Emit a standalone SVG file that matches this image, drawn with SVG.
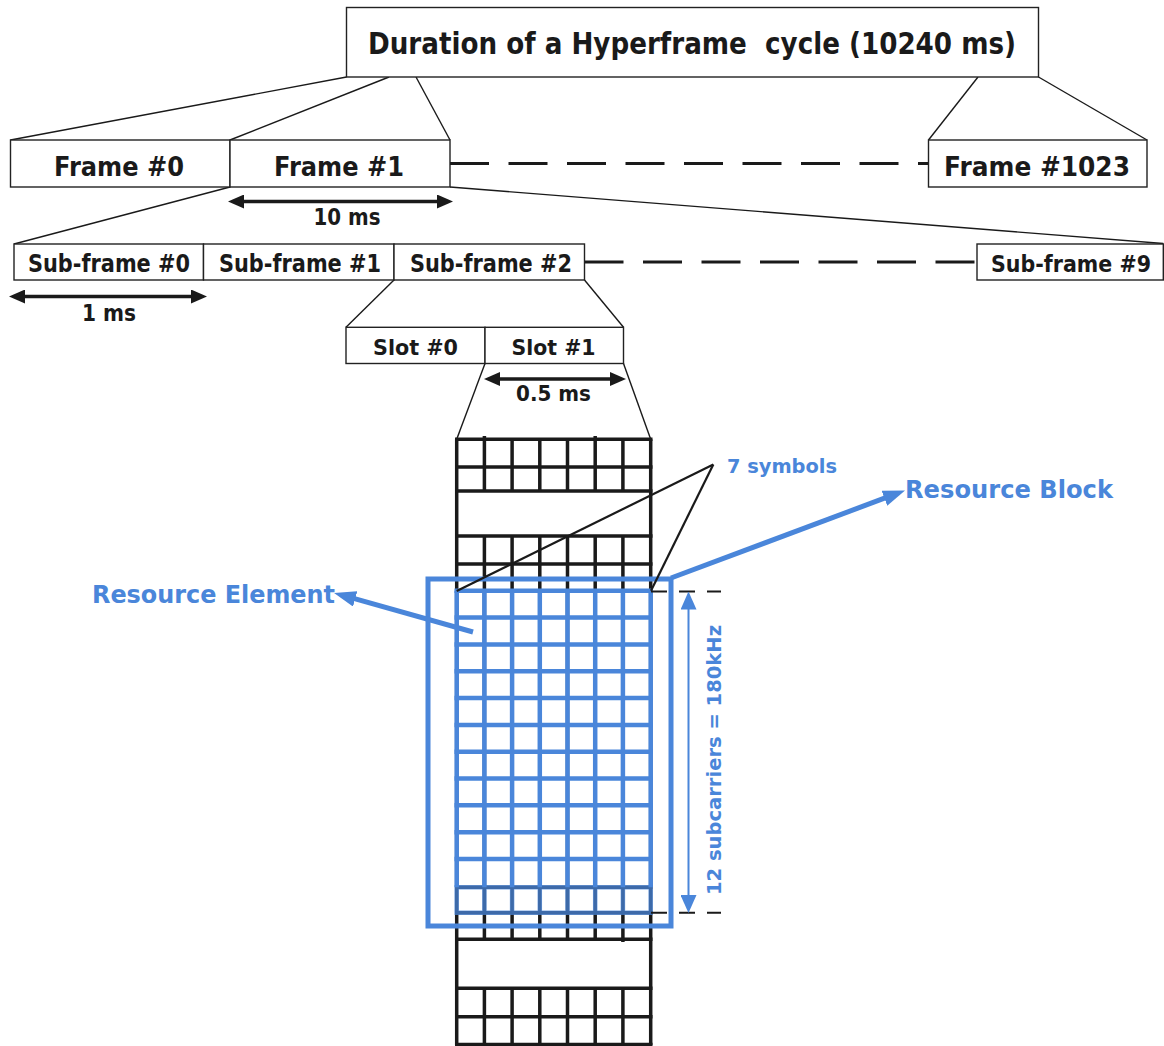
<svg xmlns="http://www.w3.org/2000/svg" width="1164" height="1046" viewBox="0 0 1164 1046">
  <style>
    .box { fill: #ffffff; stroke: #222222; stroke-width: 1.4; }
    .thin { fill: none; stroke: #1a1a1a; stroke-width: 1.4; }
    .dash { fill: none; stroke: #1a1a1a; stroke-width: 3; stroke-dasharray: 39 19.5; }
    .sdash { fill: none; stroke: #1a1a1a; stroke-width: 2; stroke-dasharray: 16 12; }
    .dim { fill: none; stroke: #1a1a1a; stroke-width: 3.5; marker-start: url(#ahk); marker-end: url(#ahk); }
    .lbl { font-family: "DejaVu Sans", Verdana, sans-serif; font-weight: bold; fill: #1a1a1a; text-anchor: middle; }
    .blbl { font-family: "DejaVu Sans", Verdana, sans-serif; font-weight: bold; fill: #4a86da; }
    .gk { stroke: #1a1a1a; stroke-width: 3.5; fill: none; }
    .gb { stroke: #4a86da; stroke-width: 4.5; fill: none; }
    .rb { stroke: #4a86da; stroke-width: 5; fill: none; }
    .barr { stroke: #4a86da; stroke-width: 5; fill: none; marker-end: url(#ahb); }
    .varr { stroke: #4a86da; stroke-width: 2; fill: none; marker-start: url(#ahv); marker-end: url(#ahv); }
  </style>
  <defs>
    <marker id="ahk" markerUnits="userSpaceOnUse" markerWidth="16" markerHeight="14" refX="6" refY="7" orient="auto-start-reverse">
      <path d="M0,0 L16,7 L0,14 z" fill="#1a1a1a"/>
    </marker>
    <marker id="ahb" markerUnits="userSpaceOnUse" markerWidth="22" markerHeight="16" refX="10" refY="8" orient="auto">
      <path d="M0,0 L22,8 L0,16 z" fill="#4a86da"/>
    </marker>
    <marker id="ahv" markerUnits="userSpaceOnUse" markerWidth="18" markerHeight="16" refX="8" refY="8" orient="auto-start-reverse">
      <path d="M0,0 L18,8 L0,16 z" fill="#4a86da"/>
    </marker>
  </defs>

  <g id="connectors">
    <line class="thin" x1="346.5" y1="77" x2="10.5" y2="140"/>
    <line class="thin" x1="389" y1="77" x2="230" y2="140"/>
    <line class="thin" x1="416" y1="77" x2="450" y2="140"/>
    <line class="thin" x1="978" y1="77" x2="928.5" y2="140"/>
    <line class="thin" x1="1038.5" y1="77" x2="1147" y2="140"/>
    <line class="dash" x1="450" y1="163.5" x2="928.5" y2="163.5"/>
    <line class="thin" x1="230" y1="187" x2="14" y2="244"/>
    <line class="thin" x1="450" y1="187" x2="1163.3" y2="243.5"/>
    <line class="dash" x1="584.5" y1="262" x2="977" y2="262"/>
    <line class="thin" x1="394" y1="280" x2="346" y2="327.3"/>
    <line class="thin" x1="584.5" y1="280" x2="623.5" y2="327.3"/>
    <line class="thin" x1="485" y1="363.5" x2="456.7" y2="439.3"/>
    <line class="thin" x1="623.5" y1="363.5" x2="650.7" y2="439.3"/>
    <line class="dim" x1="238" y1="201.5" x2="443" y2="201.5"/>
    <line class="dim" x1="19" y1="296.5" x2="197" y2="296.5"/>
    <line class="dim" x1="494" y1="379" x2="616" y2="379"/>
  </g>

  <g id="title">
    <rect class="box" x="346.5" y="7.5" width="692" height="69.5"/>
    <text class="lbl" x="692" y="54" font-size="30" textLength="648" lengthAdjust="spacingAndGlyphs" xml:space="preserve">Duration of a Hyperframe  cycle (10240 ms)</text>
  </g>
  <g id="frame0">
    <rect class="box" x="10.5" y="140" width="219.5" height="47"/>
    <text class="lbl" x="119" y="176" font-size="27" textLength="130" lengthAdjust="spacingAndGlyphs">Frame #0</text>
  </g>
  <g id="frame1">
    <rect class="box" x="230" y="140" width="220" height="47"/>
    <text class="lbl" x="339" y="176" font-size="27" textLength="130" lengthAdjust="spacingAndGlyphs">Frame #1</text>
  </g>
  <g id="frame1023">
    <rect class="box" x="928.5" y="140" width="218.5" height="47"/>
    <text class="lbl" x="1037" y="176" font-size="27" textLength="186" lengthAdjust="spacingAndGlyphs">Frame #1023</text>
  </g>
  <g id="dim-10ms">
    <text class="lbl" x="347" y="225" font-size="23" textLength="67" lengthAdjust="spacingAndGlyphs">10 ms</text>
  </g>

  <g id="subframe0">
    <rect class="box" x="14" y="244" width="189.5" height="36"/>
    <text class="lbl" x="109" y="272" font-size="24" textLength="162" lengthAdjust="spacingAndGlyphs">Sub-frame #0</text>
  </g>
  <g id="subframe1">
    <rect class="box" x="203.5" y="244" width="190.5" height="36"/>
    <text class="lbl" x="300" y="272" font-size="24" textLength="162" lengthAdjust="spacingAndGlyphs">Sub-frame #1</text>
  </g>
  <g id="subframe2">
    <rect class="box" x="394" y="244" width="190.5" height="36"/>
    <text class="lbl" x="491" y="272" font-size="24" textLength="162" lengthAdjust="spacingAndGlyphs">Sub-frame #2</text>
  </g>
  <g id="subframe9">
    <rect class="box" x="977" y="244" width="186.3" height="36"/>
    <text class="lbl" x="1071" y="271.5" font-size="22.5" textLength="160" lengthAdjust="spacingAndGlyphs">Sub-frame #9</text>
  </g>
  <g id="dim-1ms">
    <text class="lbl" x="109" y="321" font-size="23" textLength="54" lengthAdjust="spacingAndGlyphs">1 ms</text>
  </g>

  <g id="slot0">
    <rect class="box" x="346" y="327.3" width="139" height="36.2"/>
    <text class="lbl" x="415.5" y="355" font-size="22" textLength="85" lengthAdjust="spacingAndGlyphs">Slot #0</text>
  </g>
  <g id="slot1">
    <rect class="box" x="485" y="327.3" width="138.5" height="36.2"/>
    <text class="lbl" x="553.5" y="355" font-size="22" textLength="84" lengthAdjust="spacingAndGlyphs">Slot #1</text>
  </g>
  <g id="dim-05ms">
    <text class="lbl" x="553.5" y="401" font-size="22" textLength="75" lengthAdjust="spacingAndGlyphs">0.5 ms</text>
  </g>

  <g id="slot-grid">
    <line class="gk" x1="456.7" y1="439.3" x2="456.7" y2="1045"/>
    <line class="gk" x1="650.7" y1="439.3" x2="650.7" y2="1045"/>
    <line class="gk" x1="455" y1="439.3" x2="652.5" y2="439.3"/>
    <line class="gk" x1="455" y1="467" x2="652.5" y2="467"/>
    <line class="gk" x1="455" y1="491" x2="652.5" y2="491"/>
    <line class="gk" x1="455" y1="536" x2="652.5" y2="536"/>
    <line class="gk" x1="455" y1="564" x2="652.5" y2="564"/>
    <line class="gk" x1="455" y1="887.3" x2="652.5" y2="887.3"/>
    <line class="gk" x1="455" y1="912.7" x2="652.5" y2="912.7"/>
    <line class="gk" x1="455" y1="939.3" x2="652.5" y2="939.3"/>
    <line class="gk" x1="455" y1="988.3" x2="652.5" y2="988.3"/>
    <line class="gk" x1="455" y1="1016.7" x2="652.5" y2="1016.7"/>
    <line class="gk" x1="455" y1="1044.5" x2="652.5" y2="1044.5"/>
    <path class="gk" d="M484.4,436 V491 M512.1,439.3 V491 M539.8,439.3 V491 M567.5,439.3 V491 M595.2,436 V491 M622.9,439.3 V491"/>
    <path class="gk" d="M484.4,536 V939.3 M512.1,536 V939.3 M539.8,536 V939.3 M567.5,536 V939.3 M595.2,536 V939.3 M622.9,536 V942"/>
    <path class="gk" d="M484.4,988.3 V1045 M512.1,988.3 V1045 M539.8,988.3 V1045 M567.5,988.3 V1045 M595.2,988.3 V1045 M622.9,988.3 V1045"/>
  </g>

  <g id="resource-grid">
    <path class="gb" d="M456.7,590.7 V887.3 M484.4,590.7 V887.3 M512.1,590.7 V887.3 M539.8,590.7 V887.3 M567.5,590.7 V887.3 M595.2,590.7 V887.3 M622.9,590.7 V887.3 M650.7,590.7 V887.3"/>
    <path class="gb" d="M454.5,590.7 H652.9 M454.5,617.5 H652.9 M454.5,644.4 H652.9 M454.5,671.2 H652.9 M454.5,698 H652.9 M454.5,724.9 H652.9 M454.5,751.7 H652.9 M454.5,778.5 H652.9 M454.5,805.3 H652.9 M454.5,832.2 H652.9 M454.5,859 H652.9"/>
    <g opacity="0.75">
      <path class="gb" d="M454.5,887.3 H652.9 M454.5,912.7 H652.9 M456.7,887.3 V912.7 M484.4,887.3 V912.7 M512.1,887.3 V912.7 M539.8,887.3 V912.7 M567.5,887.3 V912.7 M595.2,887.3 V912.7 M622.9,887.3 V912.7 M650.7,887.3 V912.7"/>
    </g>
  </g>

  <g id="resource-block">
    <rect class="rb" x="428" y="579" width="243" height="347"/>
  </g>

  <g id="annotations">
    <line class="thin" x1="713.3" y1="464.5" x2="456.7" y2="591" style="stroke-width:2.2"/>
    <line class="thin" x1="713.3" y1="464.5" x2="651" y2="590.7" style="stroke-width:2.2"/>
    <line class="sdash" x1="651" y1="591.5" x2="721" y2="591.5"/>
    <line class="sdash" x1="651" y1="912.7" x2="721" y2="912.7"/>
    <line class="barr" x1="671" y1="578" x2="893.8" y2="494.7"/>
    <line class="barr" x1="473" y1="632" x2="345.6" y2="596.2"/>
    <line class="varr" x1="688.5" y1="601.5" x2="688.5" y2="903"/>
  </g>

  <g id="labels">
    <text class="blbl" x="727" y="473" font-size="19" textLength="110" lengthAdjust="spacingAndGlyphs">7 symbols</text>
    <text class="blbl" x="905" y="498" font-size="24" textLength="208" lengthAdjust="spacingAndGlyphs">Resource Block</text>
    <text class="blbl" x="92" y="602.5" font-size="24" textLength="243" lengthAdjust="spacingAndGlyphs">Resource Element</text>
    <text class="blbl" transform="translate(721,760) rotate(-90)" x="0" y="0" font-size="19.5" text-anchor="middle" textLength="270" lengthAdjust="spacingAndGlyphs">12 subcarriers = 180kHz</text>
  </g>
</svg>
